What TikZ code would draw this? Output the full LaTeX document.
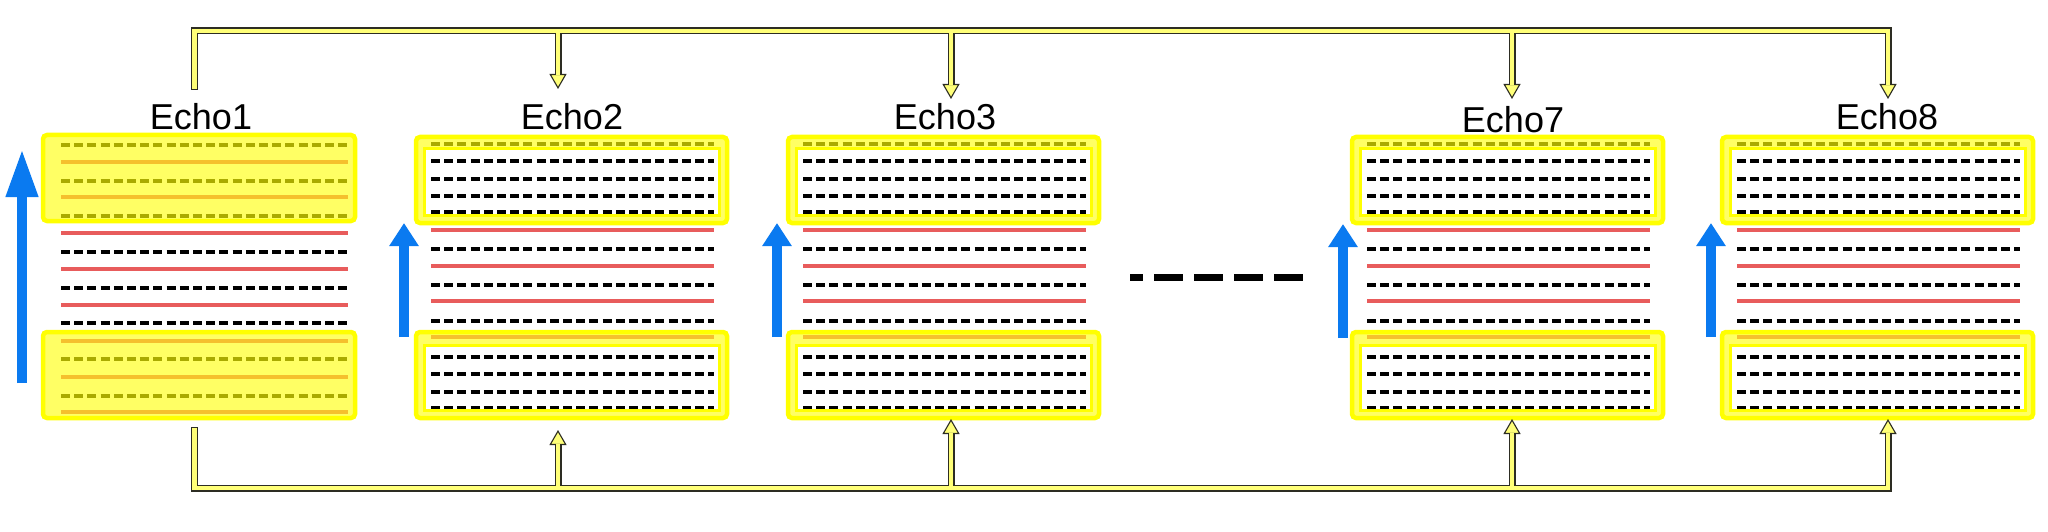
\documentclass[tikz,border=0pt]{standalone}
\usepackage{fontspec}
\setmainfont{Liberation Sans}
\usetikzlibrary{arrows.meta}
\definecolor{olivedash}{RGB}{170,170,0}
\definecolor{orangeln}{RGB}{245,192,45}
\definecolor{redln}{RGB}{232,92,92}
\definecolor{brightyel}{RGB}{255,255,0}
\definecolor{paleyel}{RGB}{255,255,100}
\definecolor{busfill}{RGB}{255,255,120}
\definecolor{busedge}{RGB}{45,45,35}
\definecolor{bluearrow}{RGB}{10,122,240}
\tikzset{
  lnO/.style={draw=olivedash, line width=4.5pt, dash pattern=on 9pt off 4.2pt},
  lnB/.style={draw=black, line width=4.5pt, dash pattern=on 9pt off 4.2pt},
  lnR/.style={draw=redln, line width=4pt},
  lnY/.style={draw=orangeln, line width=4pt},
  outerbox/.style={draw=brightyel, fill=paleyel, line width=4.5pt, rounded corners=4pt},
  innerbox/.style={draw=brightyel, line width=3pt},
  busE/.style={draw=busedge, line width=7pt, line join=miter},
  busF/.style={draw=busfill, line width=4.8pt, line join=miter},
  bustip/.style={-{Triangle[width=17pt,length=15pt,line width=1.1pt,fill=busfill]}},
  bigblue/.style={draw=bluearrow, line width=10pt, -{Triangle[width=30pt,length=48pt]}},
  smallblue/.style={draw=bluearrow, line width=9.5pt, -{Triangle[width=28pt,length=23pt]}},
  lab/.style={font=\fontsize{36}{40}\selectfont, anchor=base, inner sep=0pt},
  gapdash/.style={draw=black, line width=7pt, dash pattern=on 29pt off 11pt, dash phase=16pt}
}
\newcommand\echoStd[1]{%
  \begin{scope}[shift={(#1,0)}]
    \draw[outerbox] (0,137) rectangle (311,223);
    \draw[outerbox] (0,332) rectangle (311,418);
    \fill[white] (8,149) rectangle (303,215);
    \fill[white] (8,345) rectangle (303,410);
    \foreach \t/\y in {O/144,B/161,B/179,B/196,B/212.5,R/230,B/249,R/266,B/285,R/301,B/321,Y/337,B/357,B/374,B/392,B/408.5}
      \draw[ln\t] (15,\y) -- (298,\y);
    \draw[innerbox] (8,149) rectangle (303,215);
    \draw[innerbox] (8,345) rectangle (303,410);
  \end{scope}}
\newcommand\echoFirst[1]{%
  \begin{scope}[shift={(#1,0)}]
    \draw[outerbox] (0,135) rectangle (312,221);
    \draw[outerbox] (0,332) rectangle (312,418);
    \foreach \t/\y in {O/145,Y/162,O/181,Y/197,O/216,R/233,B/252,R/269,B/288,R/305,B/323,Y/341,O/359,Y/377,O/396,Y/412}
      \draw[ln\t] (18,\y) -- (305,\y);
  \end{scope}}
\begin{document}
\begin{tikzpicture}[x=1pt,y=-1pt]
\useasboundingbox[fill=white] (0,0) rectangle (2048,532);

% blocks
\echoFirst{43}
\echoStd{416}
\echoStd{788}
\echoStd{1352}
\echoStd{1722}

% labels
\node[lab] (lab1) at (201,130) {Echo1};
\node[lab] (lab2) at (572,130) {Echo2};
\node[lab] (lab3) at (945,130) {Echo3};
\node[lab] (lab7) at (1513,133) {Echo7};
\node[lab] (lab8) at (1887,130) {Echo8};

% blue arrows
\coordinate (u1a) at (22,383);  \coordinate (u1b) at (22,149);
\coordinate (u2a) at (404,337); \coordinate (u2b) at (404,223);
\coordinate (u3a) at (777,337); \coordinate (u3b) at (777,223);
\coordinate (u7a) at (1343,338); \coordinate (u7b) at (1343,224);
\coordinate (u8a) at (1711,337); \coordinate (u8b) at (1711,223);
\draw[bigblue] (u1a) -- (u1b);
\draw[smallblue] (u2a) -- (u2b);
\draw[smallblue] (u3a) -- (u3b);
\draw[smallblue] (u7a) -- (u7b);
\draw[smallblue] (u8a) -- (u8b);

% ellipsis between Echo3 and Echo7
\coordinate (g1) at (1130,277); \coordinate (g2) at (1304,277);
\draw[gapdash] (g1) -- (g2);

% bus coordinates
\coordinate (st) at (194.5,90);  \coordinate (tl) at (194.5,31); \coordinate (tr) at (1888,31);
\coordinate (t2) at (558,89);  \coordinate (t3) at (951,99); \coordinate (t7) at (1512,99); \coordinate (t8) at (1888,99);
\coordinate (sb) at (194.5,427); \coordinate (bl) at (194.5,488); \coordinate (br) at (1888,488);
\coordinate (b2) at (558,430); \coordinate (b3) at (951,419); \coordinate (b7) at (1512,419); \coordinate (b8) at (1888,419);

% bus outline pass
\draw[busE, bustip] (st) -- (tl) -- (tr) -- (t8);
\draw[busE, bustip] (t2|-tl) -- (t2);
\draw[busE, bustip] (t3|-tl) -- (t3);
\draw[busE, bustip] (t7|-tl) -- (t7);
\draw[busE, bustip] (sb) -- (bl) -- (br) -- (b8);
\draw[busE, bustip] (b2|-bl) -- (b2);
\draw[busE, bustip] (b3|-bl) -- (b3);
\draw[busE, bustip] (b7|-bl) -- (b7);
% bus fill pass
\draw[busF, shorten >=13.5pt, shorten <=1pt] (st) -- (tl) -- (tr) -- (t8);
\draw[busF, shorten >=13.5pt] (t2|-tl) -- (t2);
\draw[busF, shorten >=13.5pt] (t3|-tl) -- (t3);
\draw[busF, shorten >=13.5pt] (t7|-tl) -- (t7);
\draw[busF, shorten >=13.5pt, shorten <=1pt] (sb) -- (bl) -- (br) -- (b8);
\draw[busF, shorten >=13.5pt] (b2|-bl) -- (b2);
\draw[busF, shorten >=13.5pt] (b3|-bl) -- (b3);
\draw[busF, shorten >=13.5pt] (b7|-bl) -- (b7);
\end{tikzpicture}
\end{document}
